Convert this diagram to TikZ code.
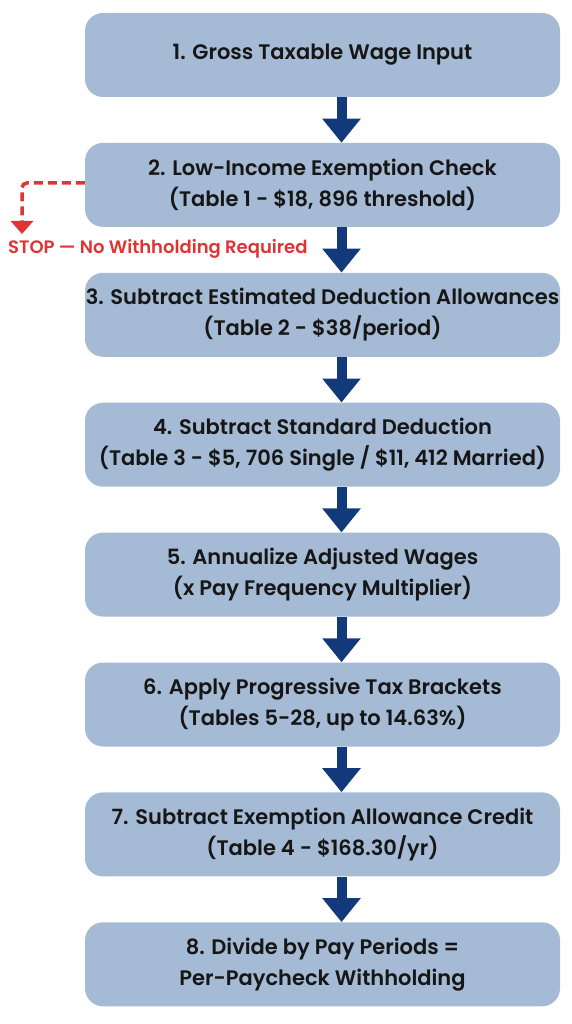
\documentclass[tikz,border=0pt]{standalone}
\usepackage{fontspec}
\setmainfont{Poppins}[UprightFont={* Medium},BoldFont={* SemiBold}]
\usetikzlibrary{arrows.meta,chains,positioning}
\definecolor{stepfill}{RGB}{165,186,212}
\definecolor{flowblue}{RGB}{18,58,122}
\definecolor{stopred}{RGB}{222,52,52}
\definecolor{steptext}{RGB}{22,22,22}

\begin{document}
\begin{tikzpicture}[
  stepbox/.style={draw=none,fill=stepfill,rounded corners=18pt,minimum width=475pt,minimum height=84pt,
    inner sep=0pt,align=center,text=steptext,font=\fontsize{21}{31}\selectfont\bfseries},
  flow/.style={flowblue,line width=10pt,-{Triangle[length=24pt,width=37pt]}},
  stopline/.style={stopred,line width=3.5pt,dash pattern=on 9pt off 5pt,rounded corners=5pt,
    -{Triangle[length=13pt,width=22pt]}},
  stoptext/.style={text=stopred,font=\fontsize{18}{22}\selectfont\bfseries,inner sep=0pt}]

\useasboundingbox (0,0) rectangle (572pt,-1024pt);

\begin{scope}[shift={(322.5pt,-55pt)},start chain=going below,node distance=45.5pt]
\def\steps{1/{1. Gross Taxable Wage Input},
  2/{2. Low-Income Exemption Check\\(Table 1 - \$18, 896 threshold)},
  3/{3. Subtract Estimated Deduction Allowances\\(Table 2 - \$38/period)},
  4/{4. Subtract Standard Deduction\\(Table 3 - \$5, 706 Single / \$11, 412 Married)},
  5/{5. Annualize Adjusted Wages\\(x Pay Frequency Multiplier)},
  6/{6. Apply Progressive Tax Brackets\\(Tables 5-28, up to 14.63\%)},
  7/{7. Subtract Exemption Allowance Credit\\(Table 4 - \$168.30/yr)},
  8/{8. Divide by Pay Periods =\\Per-Paycheck Withholding}}
\foreach \i / \element in \steps
  \node [stepbox,on chain] (s\i) {\element};
\end{scope}

\draw[flow] ([xshift=19pt]s1.south) -- ([xshift=19pt]s2.north);
\draw[flow] ([xshift=19pt]s2.south) -- ([xshift=19pt]s3.north);
\draw[flow] ([xshift=19pt]s3.south) -- ([xshift=19pt]s4.north);
\draw[flow] ([xshift=19pt]s4.south) -- ([xshift=19pt]s5.north);
\draw[flow] ([xshift=19pt]s5.south) -- ([xshift=19pt]s6.north);
\draw[flow] ([xshift=19pt]s6.south) -- ([xshift=19pt]s7.north);
\draw[flow] ([xshift=19pt]s7.south) -- ([xshift=19pt]s8.north);

\node[stoptext,anchor=north west] (stop) at (8pt,-239pt) {STOP — No Withholding Required};
\coordinate (stoptip) at (22pt,-234pt);
\draw[stopline] ([yshift=2pt]s2.west) -| (stoptip);

\end{tikzpicture}
\end{document}
